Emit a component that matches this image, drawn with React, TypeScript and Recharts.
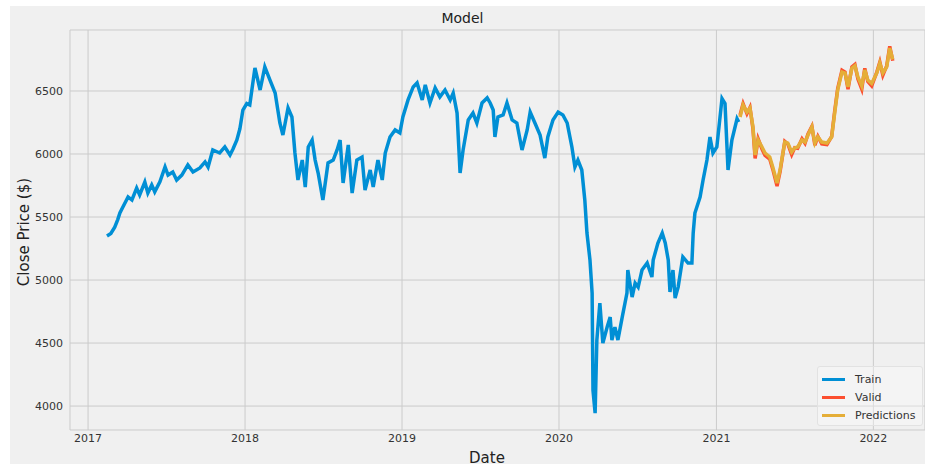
import { LineChart, Line, XAxis, YAxis, CartesianGrid } from 'recharts'

const trainDates = [
  '2017-02-14', '2017-02-23', '2017-03-04', '2017-03-11', '2017-03-16', '2017-03-23', '2017-04-04', '2017-04-13',
  '2017-04-24', '2017-05-01', '2017-05-13', '2017-05-20', '2017-05-29', '2017-06-05', '2017-06-17', '2017-06-29',
  '2017-07-06', '2017-07-17', '2017-07-26', '2017-08-07', '2017-08-21', '2017-09-02', '2017-09-18', '2017-09-30',
  '2017-10-07', '2017-10-18', '2017-11-03', '2017-11-15', '2017-11-27', '2017-12-04', '2017-12-13', '2017-12-20',
  '2017-12-27', '2018-01-05', '2018-01-12', '2018-01-24', '2018-02-05', '2018-02-16', '2018-02-28', '2018-03-12',
  '2018-03-23', '2018-03-30', '2018-04-11', '2018-04-20', '2018-04-27', '2018-05-04', '2018-05-14', '2018-05-21',
  '2018-05-28', '2018-06-06', '2018-06-13', '2018-06-20', '2018-07-01', '2018-07-13', '2018-07-25', '2018-08-03',
  '2018-08-10', '2018-08-17', '2018-08-29', '2018-09-07', '2018-09-18', '2018-09-30', '2018-10-07', '2018-10-19',
  '2018-10-26', '2018-11-06', '2018-11-16', '2018-11-23', '2018-12-04', '2018-12-16', '2018-12-27', '2019-01-03',
  '2019-01-15', '2019-01-27', '2019-02-05', '2019-02-17', '2019-02-24', '2019-03-07', '2019-03-19', '2019-03-30',
  '2019-04-11', '2019-04-23', '2019-04-30', '2019-05-09', '2019-05-16', '2019-05-23', '2019-06-04', '2019-06-15',
  '2019-06-24', '2019-07-06', '2019-07-18', '2019-07-25', '2019-08-01', '2019-08-05', '2019-08-12', '2019-08-24',
  '2019-09-02', '2019-09-14', '2019-09-25', '2019-10-07', '2019-10-19', '2019-10-26', '2019-11-06', '2019-11-18',
  '2019-11-29', '2019-12-06', '2019-12-18', '2019-12-30', '2020-01-10', '2020-01-20', '2020-01-31', '2020-02-07',
  '2020-02-14', '2020-02-23', '2020-03-01', '2020-03-06', '2020-03-13', '2020-03-18', '2020-03-20', '2020-03-25',
  '2020-03-29', '2020-04-05', '2020-04-12', '2020-04-22', '2020-04-29', '2020-05-03', '2020-05-10', '2020-05-17',
  '2020-05-27', '2020-06-07', '2020-06-09', '2020-06-19', '2020-06-26', '2020-07-03', '2020-07-12', '2020-07-24',
  '2020-08-04', '2020-08-07', '2020-08-18', '2020-08-28', '2020-09-04', '2020-09-11', '2020-09-15', '2020-09-22',
  '2020-09-27', '2020-10-04', '2020-10-15', '2020-10-27', '2020-11-05', '2020-11-08', '2020-11-12', '2020-11-24',
  '2020-12-01', '2020-12-10', '2020-12-17', '2020-12-24', '2021-01-02', '2021-01-14', '2021-01-21', '2021-01-28',
  '2021-02-06', '2021-02-18', '2021-02-22',
]
const trainClose = [
  5350, 5370, 5420, 5480, 5532, 5580, 5660, 5635,
  5730, 5675, 5778, 5690, 5755, 5700, 5780, 5897,
  5833, 5857, 5794, 5833, 5913, 5857, 5889, 5937,
  5897, 6032, 6008, 6056, 5992, 6040, 6111, 6200,
  6349, 6400, 6389, 6683, 6508, 6691, 6587, 6484,
  6246, 6151, 6365, 6294, 6008, 5794, 5952, 5738,
  6056, 6111, 5952, 5849, 5635, 5929, 5952, 6032,
  6111, 5770, 6072, 5690, 5952, 5976, 5714, 5873,
  5738, 5952, 5794, 6008, 6135, 6191, 6167, 6294,
  6429, 6532, 6564, 6429, 6548, 6405, 6524, 6453,
  6508, 6429, 6484, 6325, 5849, 6032, 6270, 6325,
  6246, 6405, 6445, 6405, 6349, 6135, 6294, 6310,
  6405, 6270, 6246, 6032, 6191, 6333, 6246, 6150,
  5968, 6135, 6270, 6333, 6310, 6246, 6056, 5897,
  5952, 5873, 5635, 5373, 5159, 4897, 4127, 3944,
  4524, 4817, 4500, 4627, 4706, 4524, 4627, 4524,
  4706, 4897, 5079, 4865, 4976, 4944, 5079, 5135,
  5024, 5159, 5294, 5373, 5294, 5159, 4905, 5079,
  4857, 4944, 5183, 5135, 5135, 5373, 5532, 5659,
  5794, 5952, 6135, 6008, 6056, 6440, 6400, 5873,
  6110, 6280, 6254,
]

const validDates = [
  '2021-02-25', '2021-03-04', '2021-03-13', '2021-03-20', '2021-03-27', '2021-04-01', '2021-04-08', '2021-04-17',
  '2021-04-24', '2021-05-05', '2021-05-12', '2021-05-22', '2021-05-29', '2021-06-09', '2021-06-16', '2021-06-25',
  '2021-07-02', '2021-07-09', '2021-07-19', '2021-07-26', '2021-08-02', '2021-08-11', '2021-08-18', '2021-08-25',
  '2021-09-03', '2021-09-15', '2021-09-26', '2021-10-03', '2021-10-10', '2021-10-20', '2021-10-27', '2021-11-03',
  '2021-11-12', '2021-11-19', '2021-11-26', '2021-12-05', '2021-12-12', '2021-12-19', '2021-12-28', '2022-01-09',
  '2022-01-16', '2022-01-23', '2022-02-01', '2022-02-08', '2022-02-15',
]
const validClose = [
  6310, 6400, 6320, 6370, 6200, 5965, 6120, 6040,
  5990, 5960, 5880, 5745, 5860, 6100, 6080, 5995,
  6050, 6045, 6120, 6085, 6160, 6220, 6070, 6140,
  6080, 6075, 6140, 6340, 6520, 6665, 6650, 6515,
  6690, 6710, 6595, 6515, 6680, 6575, 6540, 6650,
  6730, 6625, 6700, 6855, 6740,
]
const predictedClose = [
  6294, 6389, 6333, 6365, 6214, 5992, 6111, 6056,
  6008, 5976, 5897, 5770, 5873, 6095, 6087, 6016,
  6048, 6056, 6111, 6095, 6151, 6214, 6087, 6135,
  6095, 6087, 6135, 6325, 6508, 6651, 6643, 6532,
  6680, 6700, 6611, 6540, 6667, 6587, 6560, 6643,
  6720, 6643, 6691, 6840, 6750,
]

const yearTicks = [2017, 2018, 2019, 2020, 2021, 2022]
const priceTicks = [4000, 4500, 5000, 5500, 6000, 6500]

const COLORS = { train: '#008fd5', valid: '#fc4f30', predictions: '#e5ae38' }
const FONT = '"DejaVu Sans", sans-serif'

const toTime = (d: string) => Date.parse(d + 'T00:00:00Z')

const data = [
  ...trainDates.map((d, i) => ({ t: toTime(d), train: trainClose[i] })),
  ...validDates.map((d, i) => ({ t: toTime(d), valid: validClose[i], predictions: predictedClose[i] })),
]

const legendItems = [
  { key: 'train', label: 'Train' },
  { key: 'valid', label: 'Valid' },
  { key: 'predictions', label: 'Predictions' },
]

function ModelLegend() {
  return (
    <div
      style={{
        position: 'absolute', left: 817, top: 366,
        width: 106, height: 60, paddingTop: 3, boxSizing: 'border-box',
        background: 'rgba(255,255,255,0.3)', border: '1px solid #e2e2e2', borderRadius: 3,
        fontFamily: FONT, fontSize: 11, color: '#333',
      }}
    >
      {legendItems.map((it) => (
        <div key={it.key} style={{ display: 'flex', alignItems: 'center', height: 18 }}>
          <span style={{ display: 'inline-block', width: 23, height: 3, marginLeft: 4, marginRight: 10, background: COLORS[it.key as keyof typeof COLORS] }} />
          {it.label}
        </div>
      ))}
    </div>
  )
}

export default function App() {
  const tick = { fontFamily: FONT, fontSize: 11, fill: '#333' }
  return (
    <div style={{ position: 'absolute', left: 0, top: 0, width: 925, height: 468, background: '#fff' }}>
      <div style={{ position: 'absolute', left: 10, top: 6, width: 915, height: 458, background: '#f0f0f0' }} />
      <div style={{ position: 'absolute', left: 0, top: 10, width: 925, textAlign: 'center', fontFamily: FONT, fontSize: 14, lineHeight: '16px', color: '#222' }}>
        Model
      </div>
      <div style={{ position: 'absolute', left: 437, top: 449, width: 100, textAlign: 'center', fontFamily: FONT, fontSize: 15, lineHeight: '18px', color: '#222' }}>
        Date
      </div>
      <div
        style={{
          position: 'absolute', left: 24, top: 232, width: 160, marginLeft: -80, marginTop: -9,
          textAlign: 'center', fontFamily: FONT, fontSize: 15, lineHeight: '18px', color: '#222',
          transform: 'rotate(-90deg)',
        }}
      >
        Close Price ($)
      </div>
      <div style={{ position: 'absolute', left: 0, top: 0 }}>
        <LineChart width={925} height={468} data={data} margin={{ top: 30, right: 0, bottom: 8, left: 20 }}>
          <CartesianGrid stroke="#cbcbcb" strokeWidth={1} />
          <XAxis
            dataKey="t"
            type="number"
            scale="time"
            domain={[toTime('2016-11-20'), toTime('2022-05-01')]}
            allowDataOverflow
            ticks={yearTicks.map((y) => Date.UTC(y, 0, 1))}
            tickFormatter={(v: number) => String(new Date(v).getUTCFullYear())}
            axisLine={false}
            tickLine={false}
            tickSize={0}
            tickMargin={4}
            height={30}
            tick={tick}
          />
          <YAxis
            type="number"
            domain={[3810, 6984]}
            allowDataOverflow
            ticks={priceTicks}
            axisLine={false}
            tickLine={false}
            tickSize={0}
            tickMargin={7}
            width={50}
            tick={tick}
          />
          <Line dataKey="train" stroke={COLORS.train} strokeWidth={3.5} dot={false} isAnimationActive={false} />
          <Line dataKey="valid" stroke={COLORS.valid} strokeWidth={3.5} dot={false} isAnimationActive={false} />
          <Line dataKey="predictions" stroke={COLORS.predictions} strokeWidth={3.5} dot={false} isAnimationActive={false} />
        </LineChart>
      </div>
      <ModelLegend />
    </div>
  )
}
